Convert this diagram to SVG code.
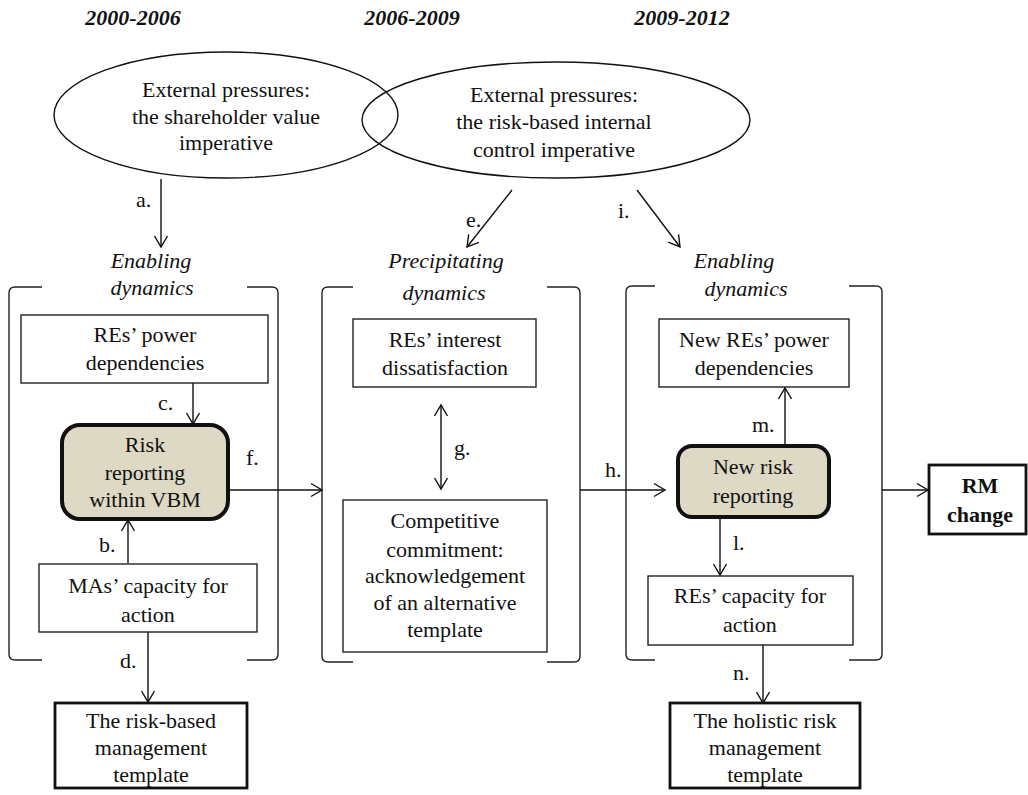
<svg xmlns="http://www.w3.org/2000/svg" width="1028" height="795" viewBox="0 0 1028 795">
<style>
text{font-family:"Liberation Serif","Times New Roman",serif;font-size:22px;fill:#111;text-anchor:middle}
.yr{font-weight:bold;font-style:italic}
.it{font-style:italic}
.lbl{text-anchor:start}
.bold{font-weight:bold}
.ell{fill:none;stroke:#111;stroke-width:1.4}
.box{fill:#fff;stroke:#222;stroke-width:1.4}
.tbox{fill:#fff;stroke:#111;stroke-width:2.8}
.core{fill:#ddd9c4;stroke:#111;stroke-width:4}
.br{fill:none;stroke:#222;stroke-width:1.4}
.arr{fill:none;stroke:#111;stroke-width:1.4;marker-end:url(#ah)}
.dbl{fill:none;stroke:#111;stroke-width:1.4;marker-end:url(#ah);marker-start:url(#ah2)}
</style>
<defs>
<marker id="ah" markerUnits="userSpaceOnUse" markerWidth="14" markerHeight="16" refX="11" refY="7" orient="auto" overflow="visible">
<path d="M0,0.5 L11,7 L0,13.5" fill="none" stroke="#111" stroke-width="1.4"/>
</marker>
<marker id="ah2" markerUnits="userSpaceOnUse" markerWidth="14" markerHeight="16" refX="11" refY="7" orient="auto-start-reverse" overflow="visible">
<path d="M0,0.5 L11,7 L0,13.5" fill="none" stroke="#111" stroke-width="1.4"/>
</marker>
</defs>

<g id="years">
<text class="yr" x="133" y="25">2000-2006</text>
<text class="yr" x="412" y="25">2006-2009</text>
<text class="yr" x="682" y="25">2009-2012</text>
</g>

<g id="pressure-shareholder">
<ellipse class="ell" cx="226" cy="115" rx="172" ry="63"/>
<text x="226" y="97">External pressures:</text>
<text x="226" y="124">the shareholder value</text>
<text x="226" y="150">imperative</text>
</g>

<g id="pressure-riskcontrol">
<ellipse class="ell" cx="556" cy="120" rx="194" ry="58"/>
<text x="554" y="102">External pressures:</text>
<text x="554" y="129">the risk-based internal</text>
<text x="554" y="157">control imperative</text>
</g>

<g id="phase-left">
<text class="it" x="151" y="268">Enabling</text>
<text class="it" x="152" y="295">dynamics</text>
<path class="br" d="M42,287 L15,287 Q9,287 9,293 L9,654 Q9,660 15,660 L42,660"/>
<path class="br" d="M247,287 L272,287 Q278,287 278,293 L278,654 Q278,660 272,660 L247,660"/>
</g>

<g id="phase-middle">
<text class="it" x="446" y="268">Precipitating</text>
<text class="it" x="444" y="300">dynamics</text>
<path class="br" d="M353,287 L328,287 Q322,287 322,293 L322,656 Q322,662 328,662 L353,662"/>
<path class="br" d="M547,287 L574,287 Q580,287 580,293 L580,656 Q580,662 574,662 L547,662"/>
</g>

<g id="phase-right">
<text class="it" x="734" y="268">Enabling</text>
<text class="it" x="746" y="296">dynamics</text>
<path class="br" d="M655,286 L632,286 Q626,286 626,292 L626,654 Q626,660 632,660 L655,660"/>
<path class="br" d="M849,286 L876,286 Q882,286 882,292 L882,654 Q882,660 876,660 L849,660"/>
</g>

<g id="res-power">
<rect class="box" x="21" y="315" width="247" height="68"/>
<text x="145" y="342">REs’ power</text>
<text x="145" y="370">dependencies</text>
</g>

<g id="risk-vbm">
<rect class="core" x="62" y="425" width="166" height="94" rx="18"/>
<text x="145" y="452">Risk</text>
<text x="145" y="480">reporting</text>
<text x="145" y="507">within VBM</text>
</g>

<g id="mas-capacity">
<rect class="box" x="39" y="564" width="218" height="68"/>
<text x="148" y="593">MAs’ capacity for</text>
<text x="148" y="622">action</text>
</g>

<g id="riskbased-template">
<rect class="tbox" x="55" y="703" width="192" height="85"/>
<text x="151" y="728">The risk-based</text>
<text x="151" y="755">management</text>
<text x="151" y="782">template</text>
</g>

<g id="res-interest">
<rect class="box" x="353" y="319" width="183" height="68"/>
<text x="445" y="347">REs’ interest</text>
<text x="445" y="375">dissatisfaction</text>
</g>

<g id="competitive">
<rect class="box" x="343" y="500" width="204" height="152"/>
<text x="445" y="528">Competitive</text>
<text x="445" y="557">commitment:</text>
<text x="445" y="583">acknowledgement</text>
<text x="445" y="610">of an alternative</text>
<text x="445" y="637">template</text>
</g>

<g id="new-res-power">
<rect class="box" x="659" y="319" width="190" height="68"/>
<text x="754" y="347">New REs’ power</text>
<text x="754" y="375">dependencies</text>
</g>

<g id="new-risk">
<rect class="core" x="678" y="446" width="151" height="71" rx="14"/>
<text x="753" y="474">New risk</text>
<text x="753" y="503">reporting</text>
</g>

<g id="res-capacity">
<rect class="box" x="648" y="576" width="205" height="69"/>
<text x="750" y="603">REs’ capacity for</text>
<text x="750" y="632">action</text>
</g>

<g id="holistic-template">
<rect class="tbox" x="670" y="703" width="190" height="85"/>
<text x="765" y="728">The holistic risk</text>
<text x="765" y="755">management</text>
<text x="765" y="782">template</text>
</g>

<g id="rm-change">
<rect class="tbox" x="929" y="465" width="97" height="69"/>
<text class="bold" x="980" y="493">RM</text>
<text class="bold" x="980" y="522">change</text>
</g>

<g id="connectors">
<line class="arr" x1="161" y1="179" x2="161" y2="247"/>
<text class="lbl" x="136" y="207">a.</text>
<line class="arr" x1="512" y1="190" x2="467" y2="247"/>
<text class="lbl" x="466" y="227">e.</text>
<line class="arr" x1="637" y1="190" x2="680" y2="247"/>
<text class="lbl" x="618" y="218">i.</text>
<line class="arr" x1="193" y1="383" x2="193" y2="424"/>
<text class="lbl" x="158" y="410">c.</text>
<line class="arr" x1="128" y1="563" x2="128" y2="520"/>
<text class="lbl" x="99" y="552">b.</text>
<line class="arr" x1="148" y1="632" x2="148" y2="702"/>
<text class="lbl" x="120" y="668">d.</text>
<line class="arr" x1="228" y1="490" x2="322" y2="490"/>
<text class="lbl" x="246" y="465">f.</text>
<line class="dbl" x1="441" y1="405" x2="441" y2="489"/>
<text class="lbl" x="454" y="455">g.</text>
<line class="arr" x1="580" y1="490" x2="665" y2="490"/>
<text class="lbl" x="605" y="477">h.</text>
<line class="arr" x1="785" y1="446" x2="785" y2="388"/>
<text class="lbl" x="752" y="432">m.</text>
<line class="arr" x1="720" y1="517" x2="720" y2="575"/>
<text class="lbl" x="733" y="550">l.</text>
<line class="arr" x1="763" y1="645" x2="763" y2="703"/>
<text class="lbl" x="733" y="680">n.</text>
<line class="arr" x1="882" y1="490" x2="928" y2="490"/>
</g>
</svg>
